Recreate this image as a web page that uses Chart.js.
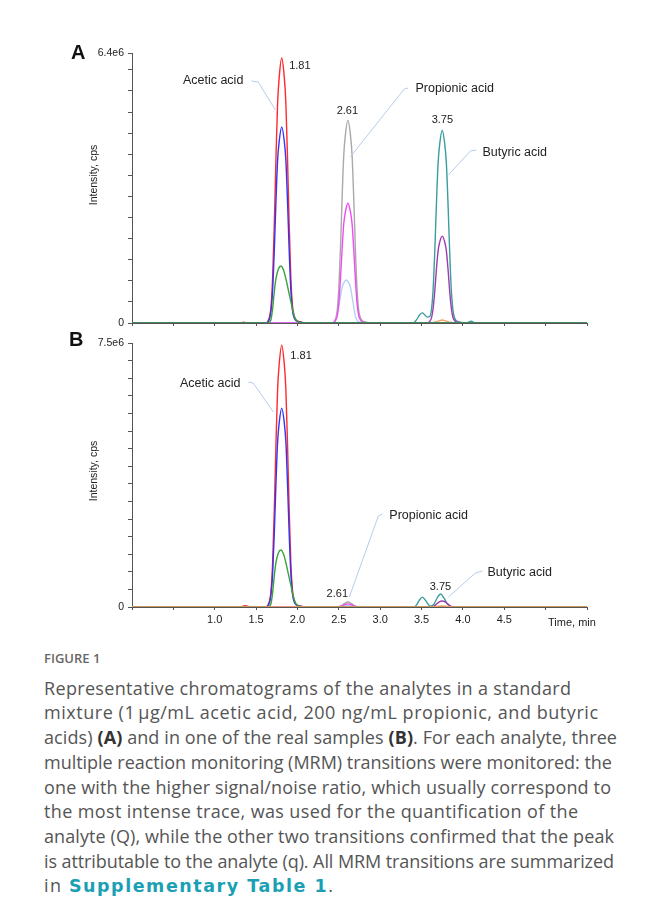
<!DOCTYPE html>
<html>
<head>
<meta charset="utf-8">
<script src="https://cdn.jsdelivr.net/npm/chart.js@4/dist/chart.umd.min.js"></script>
<style>
html,body{margin:0;padding:0;background:#fff;}
body{width:655px;height:910px;position:relative;overflow:hidden;}
#wa{position:absolute;left:0;top:0;width:655px;height:340px;}
#wb{position:absolute;left:0;top:330px;width:655px;height:310px;}
.cap{position:absolute;left:44px;font-family:"Open Sans",Lato,sans-serif;color:#555;white-space:nowrap;font-size:18px;line-height:24px;height:24px;}
.cap b{color:#333;font-weight:700;}
.cap .lnk{color:#1a9fb5;font-weight:700;font-family:"DejaVu Sans","Open Sans",sans-serif;font-size:17.5px;}
#fig{position:absolute;left:44px;top:650px;font-family:"Open Sans",Lato,sans-serif;font-size:13px;line-height:16px;color:#666;font-weight:600;}
</style>
</head>
<body>
<div id="wa"><canvas id="ca"></canvas></div>
<div id="wb"><canvas id="cb"></canvas></div>
<div id="fig">FIGURE 1</div>
<div class="cap" data-r="571" style="top:676px">Representative chromatograms of the analytes in a standard</div>
<div class="cap" data-r="598" style="top:700px">mixture (1&#8239;μg/mL acetic acid, 200 ng/mL propionic, and butyric</div>
<div class="cap" data-r="617" style="top:725px">acids) <b>(A)</b> and in one of the real samples <b>(B)</b>. For each analyte, three</div>
<div class="cap" data-r="612" style="top:750px">multiple reaction monitoring (MRM) transitions were monitored: the</div>
<div class="cap" data-r="611" style="top:775px">one with the higher signal/noise ratio, which usually correspond to</div>
<div class="cap" data-r="578" style="top:799px">the most intense trace, was used for the quantification of the</div>
<div class="cap" data-r="614" style="top:824px">analyte (Q), while the other two transitions confirmed that the peak</div>
<div class="cap" data-r="614" style="top:849px">is attributable to the analyte (q). All MRM transitions are summarized</div>
<div class="cap" data-r="333" style="top:873px">in <span class="lnk">Supplementary Table 1</span>.</div>
<script>
// ---------- axis ticks / labels ----------
const xTickValues = [0, 0.5, 1.0, 1.5, 2.0, 2.5, 3.0, 3.5, 4.0, 4.5, 5.0, 5.5];
const xTickLabelsB = ['', '', '1.0', '1.5', '2.0', '2.5', '3.0', '3.5', '4.0', '4.5', '', ''];
const yTickValuesA = [0, 0.5, 1.0, 1.5, 2.0, 2.5, 3.0, 3.5, 4.0, 4.5, 5.0, 5.5, 6.0, 6.4];
const yTickValuesB = [0, 0.5, 1.0, 1.5, 2.0, 2.5, 3.0, 3.5, 4.0, 4.5, 5.0, 5.5, 6.0, 6.5, 7.0, 7.5];
const yMaxLabelA = '6.4e6';
const yMaxLabelB = '7.5e6';
const analyteNames = ['Acetic acid', 'Propionic acid', 'Butyric acid'];
const peakTimes = ['1.81', '2.61', '3.75'];

// ---------- Panel A (standard mixture), time in min, intensity in 1e6 cps ----------
const aAceticQ_t = [0, 1.30, 1.35, 1.40, 1.62, 1.64, 1.66, 1.68, 1.70, 1.72, 1.74, 1.76, 1.78, 1.81, 1.84, 1.86, 1.88, 1.90, 1.92, 1.94, 1.96, 1.98, 2.03, 2.10, 5.5];
const aAceticQ_y = [0, 0, 0.02, 0, 0, 0.03, 0.13, 0.38, 1.07, 2.32, 3.89, 5.21, 5.84, 6.28, 5.84, 5.21, 3.89, 2.32, 1.07, 0.41, 0.17, 0.08, 0.03, 0, 0];
const aAceticq1_t = [0, 1.62, 1.64, 1.66, 1.68, 1.70, 1.72, 1.74, 1.76, 1.78, 1.81, 1.84, 1.86, 1.88, 1.90, 1.92, 1.94, 1.96, 1.98, 2.03, 2.10, 5.5];
const aAceticq1_y = [0, 0, 0.02, 0.09, 0.28, 0.79, 1.72, 2.88, 3.86, 4.32, 4.65, 4.32, 3.86, 2.88, 1.72, 0.79, 0.30, 0.13, 0.06, 0.02, 0, 0];
const aAceticq2_t = [0, 1.64, 1.66, 1.68, 1.70, 1.72, 1.74, 1.77, 1.80, 1.83, 1.86, 1.89, 1.92, 1.95, 1.98, 2.01, 2.05, 5.5];
const aAceticq2_y = [0, 0, 0.01, 0.08, 0.34, 0.74, 1.05, 1.28, 1.35, 1.26, 1.05, 0.78, 0.51, 0.24, 0.08, 0.03, 0, 0];
const aPropQ_t = [0, 2.42, 2.44, 2.46, 2.48, 2.50, 2.52, 2.54, 2.56, 2.58, 2.61, 2.64, 2.66, 2.68, 2.70, 2.72, 2.74, 2.76, 2.78, 2.83, 2.90, 5.5];
const aPropQ_y = [0, 0, 0.02, 0.10, 0.29, 0.82, 1.78, 2.98, 3.99, 4.47, 4.81, 4.47, 3.99, 2.98, 1.78, 0.82, 0.31, 0.13, 0.06, 0.02, 0, 0];
const aPropq1_t = [0, 2.42, 2.44, 2.46, 2.48, 2.50, 2.52, 2.54, 2.56, 2.58, 2.61, 2.64, 2.66, 2.68, 2.70, 2.72, 2.74, 2.76, 2.78, 2.83, 2.90, 5.5];
const aPropq1_y = [0, 0, 0.01, 0.06, 0.17, 0.48, 1.05, 1.76, 2.36, 2.64, 2.84, 2.64, 2.36, 1.76, 1.05, 0.48, 0.18, 0.08, 0.03, 0.01, 0, 0];
const aPropq2_t = [0, 2.40, 2.42, 2.44, 2.46, 2.48, 2.50, 2.52, 2.54, 2.56, 2.59, 2.62, 2.64, 2.66, 2.68, 2.70, 2.72, 2.74, 2.76, 2.81, 2.88, 5.5];
const aPropq2_y = [0, 0, 0.005, 0.02, 0.06, 0.17, 0.38, 0.63, 0.85, 0.95, 1.02, 0.95, 0.85, 0.63, 0.38, 0.17, 0.07, 0.03, 0.01, 0.004, 0, 0];
const aButQ_t = [0, 3.40, 3.44, 3.48, 3.51, 3.54, 3.57, 3.60, 3.62, 3.64, 3.66, 3.68, 3.70, 3.72, 3.75, 3.78, 3.80, 3.82, 3.84, 3.86, 3.88, 3.90, 3.92, 3.97, 4.04, 4.10, 4.15, 5.5];
const aButQ_y = [0, 0, 0.08, 0.20, 0.24, 0.19, 0.14, 0.16, 0.32, 0.80, 1.70, 2.83, 3.79, 4.25, 4.57, 4.25, 3.79, 2.83, 1.69, 0.78, 0.30, 0.12, 0.05, 0.02, 0, 0.04, 0, 0];
const aButq1_t = [0, 3.56, 3.58, 3.60, 3.62, 3.64, 3.66, 3.68, 3.70, 3.72, 3.75, 3.78, 3.80, 3.82, 3.84, 3.86, 3.88, 3.90, 3.92, 3.97, 4.04, 5.5];
const aButq1_y = [0, 0, 0.01, 0.04, 0.12, 0.35, 0.76, 1.28, 1.71, 1.92, 2.06, 1.92, 1.71, 1.28, 0.76, 0.35, 0.13, 0.06, 0.02, 0.01, 0, 0];
const aButq2_t = [0, 3.58, 3.66, 3.71, 3.75, 3.79, 3.84, 3.92, 5.5];
const aButq2_y = [0, 0, 0.02, 0.05, 0.07, 0.05, 0.02, 0, 0];

// ---------- Panel B (real sample), time in min, intensity in 1e6 cps ----------
const bAceticQ_t = [0, 1.30, 1.37, 1.44, 1.62, 1.64, 1.66, 1.68, 1.70, 1.72, 1.74, 1.76, 1.78, 1.81, 1.84, 1.86, 1.88, 1.90, 1.92, 1.94, 1.96, 1.98, 2.03, 2.10, 5.5];
const bAceticQ_y = [0, 0, 0.04, 0, 0, 0.04, 0.15, 0.45, 1.26, 2.75, 4.61, 6.18, 6.92, 7.44, 6.92, 6.18, 4.61, 2.75, 1.26, 0.48, 0.20, 0.09, 0.03, 0, 0];
const bAceticq1_t = [0, 1.62, 1.64, 1.66, 1.68, 1.70, 1.72, 1.74, 1.76, 1.78, 1.81, 1.84, 1.86, 1.88, 1.90, 1.92, 1.94, 1.96, 1.98, 2.03, 2.10, 5.5];
const bAceticq1_y = [0, 0, 0.03, 0.11, 0.34, 0.96, 2.09, 3.50, 4.69, 5.25, 5.65, 5.25, 4.69, 3.50, 2.09, 0.96, 0.37, 0.15, 0.07, 0.02, 0, 0];
const bAceticq2_t = [0, 1.64, 1.66, 1.68, 1.70, 1.72, 1.74, 1.77, 1.80, 1.83, 1.86, 1.89, 1.92, 1.95, 1.98, 2.01, 2.05, 5.5];
const bAceticq2_y = [0, 0, 0.02, 0.10, 0.41, 0.89, 1.26, 1.54, 1.62, 1.51, 1.26, 0.94, 0.62, 0.29, 0.10, 0.03, 0, 0];
const bPropQ_t = [0, 2.48, 2.53, 2.57, 2.61, 2.65, 2.69, 2.74, 5.5];
const bPropQ_y = [0, 0, 0.04, 0.10, 0.14, 0.10, 0.04, 0, 0];
const bPropq1_t = [0, 2.48, 2.53, 2.57, 2.61, 2.65, 2.69, 2.74, 5.5];
const bPropq1_y = [0, 0, 0.025, 0.065, 0.09, 0.065, 0.025, 0, 0];
const bPropq2_t = [0, 2.48, 2.53, 2.57, 2.61, 2.65, 2.69, 2.74, 5.5];
const bPropq2_y = [0, 0, 0.015, 0.04, 0.05, 0.04, 0.015, 0, 0];
const bButQ_t = [0, 3.40, 3.44, 3.47, 3.51, 3.55, 3.59, 3.62, 3.65, 3.69, 3.73, 3.77, 3.81, 3.85, 3.88, 5.5];
const bButQ_y = [0, 0, 0.06, 0.18, 0.28, 0.18, 0.05, 0.03, 0.08, 0.26, 0.37, 0.26, 0.09, 0.02, 0, 0];
const bButq1_t = [0, 3.62, 3.67, 3.71, 3.75, 3.79, 3.83, 3.88, 5.5];
const bButq1_y = [0, 0, 0.06, 0.14, 0.17, 0.14, 0.06, 0, 0];
const bButq2_t = [0, 3.62, 3.70, 3.75, 3.80, 3.88, 5.5];
const bButq2_y = [0, 0, 0.02, 0.03, 0.02, 0, 0];

// ---------- caption line fitting (match reference line widths) ----------
function fitCaption() {
  document.querySelectorAll('.cap').forEach(el => {
    el.style.letterSpacing = '0px';
    const target = parseFloat(el.dataset.r) - 44;
    const w = el.getBoundingClientRect().width;
    const n = Math.max(1, el.textContent.length - 1);
    el.style.letterSpacing = ((target - w) / n).toFixed(3) + 'px';
  });
}
fitCaption();
if (document.fonts && document.fonts.ready) document.fonts.ready.then(fitCaption);

// ---------- helpers ----------
const FONT = '"Liberation Sans", Arial, sans-serif';
const C = {
  red: '#ff2a2a', blue: '#3434f4', green: '#3aa23a', grey: '#a9a9a9',
  magenta: '#f24af2', lightblue: '#b4d2f6', teal: '#3a9e9c', purple: '#9e3cae',
  orange: '#f4a060', leader: '#b7cbee', axis: '#555', text: '#222'
};
function pts(t, y) { return t.map((v, i) => ({ x: v, y: y[i] })); }
function ds(t, y, color, order) {
  return { data: pts(t, y), borderColor: color, borderWidth: 1.4, pointRadius: 0,
    fill: false, cubicInterpolationMode: 'monotone', order: order };
}

const annotPlugin = {
  id: 'annot',
  afterDatasetsDraw(chart, args, o) {
    const ctx = chart.ctx, xs = chart.scales.x, ys = chart.scales.y, ca = chart.chartArea;
    const P = (p) => [xs.getPixelForValue(p[0]), ys.getPixelForValue(p[1])];
    ctx.save();
    if (o.axisOnTop) {
      const y0 = Math.round(ys.getPixelForValue(0)) + 0.5;
      ctx.strokeStyle = C.axis; ctx.lineWidth = 1;
      ctx.beginPath(); ctx.moveTo(ca.left, y0); ctx.lineTo(ca.right, y0); ctx.stroke();
    }
    ctx.strokeStyle = C.leader; ctx.lineWidth = 1;
    o.leaders.forEach(l => {
      ctx.beginPath();
      l.forEach((p, i) => { const q = P(p); if (i === 0) ctx.moveTo(q[0], q[1]); else ctx.lineTo(q[0], q[1]); });
      ctx.stroke();
    });
    ctx.fillStyle = C.text; ctx.textBaseline = 'middle';
    o.labels.forEach(l => {
      ctx.font = l.size + 'px ' + FONT;
      const q = P(l.at); ctx.textAlign = l.align; ctx.fillText(l.text, q[0], q[1]);
    });
    ctx.font = 'bold 20px ' + FONT; ctx.fillStyle = '#111'; ctx.textAlign = 'left';
    ctx.fillText(o.letter, o.letterPos[0], o.letterPos[1]);
    ctx.save();
    ctx.font = '10.5px ' + FONT; ctx.fillStyle = C.text; ctx.textAlign = 'center';
    ctx.translate(o.yTitlePos[0], o.yTitlePos[1]); ctx.rotate(-Math.PI / 2);
    ctx.fillText('Intensity, cps', 0, 0);
    ctx.restore();
    if (o.xTitle) {
      ctx.font = '11px ' + FONT; ctx.fillStyle = C.text; ctx.textAlign = 'left';
      ctx.fillText(o.xTitle, o.xTitlePos[0], o.xTitlePos[1]);
    }
    ctx.restore();
  }
};

function makeChart(id, datasets, yTicks, yMax, yMaxLabel, xLabels, pad, xH, annot) {
  return new Chart(document.getElementById(id), {
    type: 'line',
    data: { datasets: datasets },
    plugins: [annotPlugin],
    options: {
      responsive: true, maintainAspectRatio: false, animation: false,
      layout: { padding: pad },
      plugins: { legend: { display: false }, tooltip: { enabled: false }, annot: annot },
      scales: {
        x: {
          type: 'linear', min: 0, max: 5.5,
          afterBuildTicks: (s) => { s.ticks = xTickValues.map(v => ({ value: v })); },
          afterFit: (s) => { s.height = xH; },
          ticks: { autoSkip: false, maxRotation: 0, padding: 3, color: C.text,
            font: { family: FONT, size: 11 },
            callback: (v, i) => xLabels ? xLabels[i] : '' },
          grid: { drawOnChartArea: false, drawTicks: true, tickLength: 3, color: C.axis },
          border: { display: true, color: C.axis, width: 1 }
        },
        y: {
          type: 'linear', min: 0, max: yMax,
          afterBuildTicks: (s) => { s.ticks = yTicks.map(v => ({ value: v })); },
          afterFit: (s) => { s.width = 50; },
          ticks: { autoSkip: false, padding: 4, color: C.text,
            font: { family: FONT, size: 10.5 },
            callback: (v) => v === 0 ? '0' : (v === yMax ? yMaxLabel : '') },
          grid: { drawOnChartArea: false, drawTicks: true, tickLength: 4, color: C.axis },
          border: { display: true, color: C.axis, width: 1 }
        }
      }
    }
  });
}

makeChart('ca', [
  ds(aAceticQ_t, aAceticQ_y, C.red, 3),
  ds(aAceticq1_t, aAceticq1_y, C.blue, 2),
  ds(aAceticq2_t, aAceticq2_y, C.green, 1),
  ds(aPropQ_t, aPropQ_y, C.grey, 6),
  ds(aPropq1_t, aPropq1_y, C.magenta, 4),
  ds(aPropq2_t, aPropq2_y, C.lightblue, 5),
  ds(aButQ_t, aButQ_y, C.teal, 8),
  ds(aButq1_t, aButq1_y, C.purple, 7),
  ds(aButq2_t, aButq2_y, C.orange, 9)
], yTickValuesA, 6.4, yMaxLabelA, null, { left: 82, right: 68, top: 53, bottom: 9 }, 8, {
  letter: 'A', letterPos: [71, 53], yTitlePos: [94, 175], axisOnTop: true,
  leaders: [
    [[1.442, 5.74], [1.527, 5.71], [1.733, 5.05]],
    [[3.341, 5.57], [3.293, 5.55], [2.640, 3.94]],
    [[4.163, 4.10], [4.091, 4.08], [3.825, 3.51]]
  ],
  labels: [
    { text: peakTimes[0], at: [1.90, 6.09], align: 'left', size: 11 },
    { text: analyteNames[0], at: [1.346, 5.74], align: 'right', size: 12.5 },
    { text: peakTimes[1], at: [2.603, 5.02], align: 'center', size: 11 },
    { text: analyteNames[1], at: [3.426, 5.55], align: 'left', size: 12.5 },
    { text: peakTimes[2], at: [3.752, 4.81], align: 'center', size: 11 },
    { text: analyteNames[2], at: [4.236, 4.05], align: 'left', size: 12.5 }
  ]
});

makeChart('cb', [
  ds(bAceticQ_t, bAceticQ_y, C.red, 3),
  ds(bAceticq1_t, bAceticq1_y, C.blue, 2),
  ds(bAceticq2_t, bAceticq2_y, C.green, 1),
  ds(bPropQ_t, bPropQ_y, C.grey, 6),
  ds(bPropq1_t, bPropq1_y, C.magenta, 4),
  ds(bPropq2_t, bPropq2_y, C.lightblue, 5),
  ds(bButQ_t, bButQ_y, C.teal, 8),
  ds(bButq1_t, bButq1_y, C.purple, 7),
  ds(bButq2_t, bButq2_y, C.orange, 0)
], yTickValuesB, 7.5, yMaxLabelB, xTickLabelsB, { left: 82, right: 68, top: 13, bottom: 5 }, 28, {
  letter: 'B', letterPos: [69, 10], yTitlePos: [94, 141],
  xTitle: 'Time, min', xTitlePos: [548, 293],
  leaders: [
    [[1.406, 6.39], [1.467, 6.36], [1.709, 5.54]],
    [[3.027, 2.64], [2.978, 2.585], [2.627, 0.284]],
    [[4.236, 1.02], [4.151, 0.966], [3.825, 0.284]]
  ],
  labels: [
    { text: peakTimes[0], at: [1.914, 7.13], align: 'left', size: 11 },
    { text: analyteNames[0], at: [1.310, 6.36], align: 'right', size: 12.5 },
    { text: peakTimes[1], at: [2.482, 0.369], align: 'center', size: 11 },
    { text: analyteNames[1], at: [3.111, 2.585], align: 'left', size: 12.5 },
    { text: peakTimes[2], at: [3.728, 0.568], align: 'center', size: 11 },
    { text: analyteNames[2], at: [4.296, 0.966], align: 'left', size: 12.5 }
  ]
});
</script>
</body>
</html>
